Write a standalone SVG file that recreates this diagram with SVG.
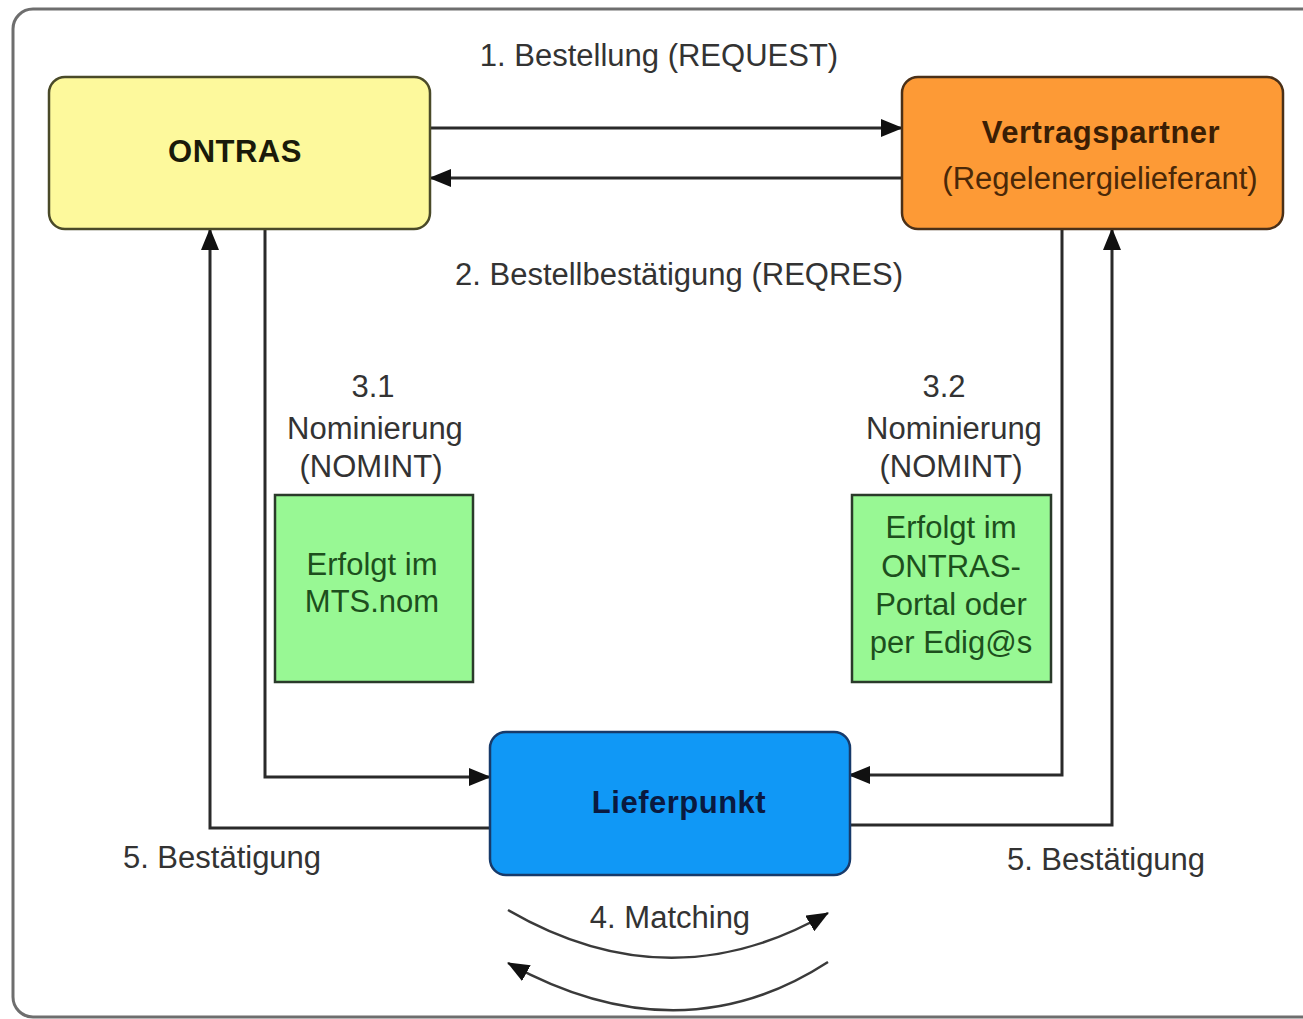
<svg xmlns="http://www.w3.org/2000/svg" width="1303" height="1019" viewBox="0 0 1303 1019">
<style>
.lbl{font-family:"Liberation Sans",Arial,sans-serif;font-size:31px;fill:#333;text-anchor:middle}
.bold{font-family:"Liberation Sans",Arial,sans-serif;font-size:31px;font-weight:bold;text-anchor:middle;letter-spacing:0.5px}
.gtxt{font-family:"Liberation Sans",Arial,sans-serif;font-size:31px;fill:#1d4f1d;text-anchor:middle}
.conn{fill:none;stroke:#2a2a2a;stroke-width:3;marker-end:url(#ah)}
.arc{fill:none;stroke:#3a3a3a;stroke-width:2.5;marker-end:url(#ah)}
</style>
<defs>
<marker id="ah" markerUnits="userSpaceOnUse" markerWidth="22" markerHeight="18" refX="21" refY="9" orient="auto">
<path d="M0,0 L22,9 L0,18 z" fill="#111"/>
</marker>
</defs>
<rect x="0" y="0" width="1303" height="1019" fill="#fff"/>
<rect x="13" y="9" width="1330" height="1008" rx="20" fill="#fff" stroke="#6e6e6e" stroke-width="3"/>

<g id="connectors">
<line class="conn" x1="430" y1="128" x2="902" y2="128"/>
<line class="conn" x1="902" y1="178" x2="430" y2="178"/>
<polyline class="conn" points="265,229 265,777 490,777"/>
<polyline class="conn" points="490,828 210,828 210,229"/>
<polyline class="conn" points="1062,229 1062,775 849,775"/>
<polyline class="conn" points="849,825 1112,825 1112,229"/>
<path class="arc" d="M508,910 Q670,1004 828,913"/>
<path class="arc" d="M828,962 Q680,1058 508,963"/>
</g>

<g id="labels">
<text class="lbl" x="659" y="66">1. Bestellung (REQUEST)</text>
<text class="lbl" x="679" y="285">2. Bestellbestätigung (REQRES)</text>
<text class="lbl" x="373" y="397">3.1</text>
<text class="lbl" x="375" y="439">Nominierung</text>
<text class="lbl" x="371" y="477">(NOMINT)</text>
<text class="lbl" x="944" y="397">3.2</text>
<text class="lbl" x="954" y="439">Nominierung</text>
<text class="lbl" x="951" y="477">(NOMINT)</text>
<text class="lbl" x="222" y="868">5. Bestätigung</text>
<text class="lbl" x="1106" y="870">5. Bestätigung</text>
<text class="lbl" x="670" y="928">4. Matching</text>
</g>

<g id="ontras">
<rect x="49" y="77" width="381" height="152" rx="16" fill="#fdf99c" stroke="#4a4a28" stroke-width="2.5"/>
<text class="bold" x="235" y="162" fill="#1a1a0a">ONTRAS</text>
</g>

<g id="vertragspartner">
<rect x="902" y="77" width="381" height="152" rx="16" fill="#fd9a36" stroke="#4a3018" stroke-width="2.5"/>
<text class="bold" x="1101" y="143" fill="#3a1e05">Vertragspartner</text>
<text class="lbl" x="1100" y="189" fill="#4a2808" style="fill:#4a2808">(Regelenergielieferant)</text>
</g>

<g id="lieferpunkt">
<rect x="490" y="732" width="360" height="143" rx="16" fill="#1098f6" stroke="#173a6a" stroke-width="2.5"/>
<text class="bold" x="679" y="813" fill="#0a1a40">Lieferpunkt</text>
</g>

<g id="mts">
<rect x="275" y="495" width="198" height="187" fill="#98f894" stroke="#2a3a2a" stroke-width="2.5"/>
<text class="gtxt" x="372" y="575">Erfolgt im</text>
<text class="gtxt" x="372" y="612">MTS.nom</text>
</g>

<g id="portal">
<rect x="852" y="495" width="199" height="187" fill="#98f894" stroke="#2a3a2a" stroke-width="2.5"/>
<text class="gtxt" x="951" y="538">Erfolgt im</text>
<text class="gtxt" x="951" y="577">ONTRAS-</text>
<text class="gtxt" x="951" y="615">Portal oder</text>
<text class="gtxt" x="951" y="653">per Edig@s</text>
</g>
</svg>
